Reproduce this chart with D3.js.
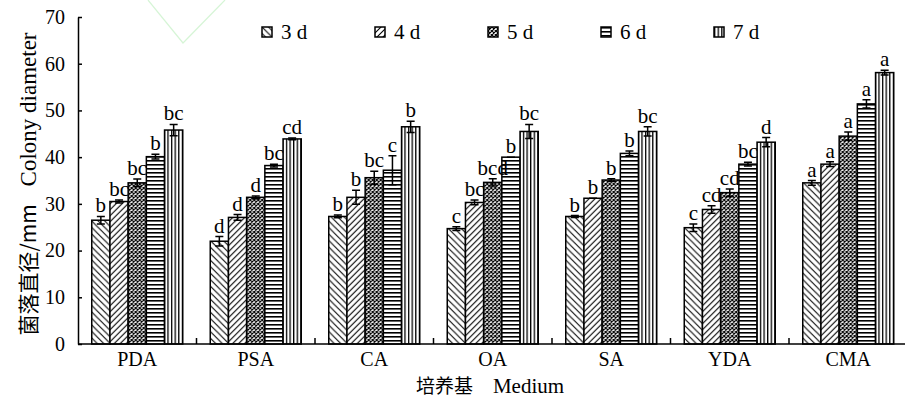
<!DOCTYPE html>
<html>
<head>
<meta charset="utf-8">
<script src="https://cdn.jsdelivr.net/npm/d3@7"></script>
<style>
  body { margin: 0; background: #fff; }
  text { font-family: "Liberation Serif", "DejaVu Serif", serif; fill: #000; }
  .cjk { font-family: "Noto Sans CJK SC", sans-serif; font-weight: 400; fill: #000; }
</style>
</head>
<body>
<div id="chart"></div>
<script>
// media and incubation days
var media = ['PDA', 'PSA', 'CA', 'OA', 'SA', 'YDA', 'CMA'];
var days = ['3 d', '4 d', '5 d', '6 d', '7 d'];

// colony diameter (mm), one row per medium, one column per day
var diameter = [
    [26.5, 30.5, 34.5, 40.1, 45.8],
    [22.0, 27.1, 31.4, 38.2, 43.9],
    [27.3, 31.4, 35.6, 37.2, 46.5],
    [24.7, 30.3, 34.6, 40.0, 45.5],
    [27.3, 31.2, 35.1, 40.8, 45.5],
    [24.9, 28.8, 32.4, 38.5, 43.2],
    [34.5, 38.5, 44.5, 51.4, 58.1]
];

// standard error
var errors = [
    [0.8, 0.3, 0.8, 0.5, 1.2],
    [1.0, 0.6, 0.3, 0.3, 0.2],
    [0.3, 1.5, 1.4, 3.1, 1.2],
    [0.4, 0.5, 0.8, 0.0, 1.5],
    [0.2, 0.0, 0.3, 0.5, 1.0],
    [0.8, 0.8, 0.8, 0.4, 1.0],
    [0.5, 0.5, 0.9, 0.9, 0.5]
];

// significance letters
var letters = [
    ['b', 'bc', 'bc', 'b', 'bc'],
    ['d', 'd', 'd', 'bc', 'cd'],
    ['b', 'b', 'bc', 'c', 'b'],
    ['c', 'bc', 'bcd', 'b', 'bc'],
    ['b', 'b', 'b', 'b', 'bc'],
    ['c', 'cd', 'cd', 'bc', 'd'],
    ['a', 'a', 'a', 'a', 'a']
];

var yTicks = [0, 10, 20, 30, 40, 50, 60, 70];

var width = 905;
var height = 402;
var plotLeft = 78, plotRight = 907.5, plotTop = 17, plotBottom = 344;

var svg = d3.select('#chart').append('svg')
    .attr('width', width)
    .attr('height', height);

// fill patterns for the five days
var defs = svg.append('defs');

var p3 = defs.append('pattern').attr('id', 'p0').attr('patternUnits', 'userSpaceOnUse')
    .attr('width', 6.5).attr('height', 6.5);
p3.append('rect').attr('width', 6.5).attr('height', 6.5).attr('fill', '#fff');
p3.append('path').attr('d', 'M-1,-1L7.5,7.5M-4,2.5L2.5,9M4,-2.5L9,2.5').attr('stroke', '#000').attr('stroke-width', 1.1);

var p4 = defs.append('pattern').attr('id', 'p1').attr('patternUnits', 'userSpaceOnUse')
    .attr('width', 6).attr('height', 6);
p4.append('rect').attr('width', 6).attr('height', 6).attr('fill', '#fff');
p4.append('path').attr('d', 'M-1,7L7,-1M-4,4L2,-2M4,8L8,4').attr('stroke', '#000').attr('stroke-width', 1.1);

var p5 = defs.append('pattern').attr('id', 'p2').attr('patternUnits', 'userSpaceOnUse')
    .attr('width', 4).attr('height', 4);
p5.append('rect').attr('width', 4).attr('height', 4).attr('fill', '#fff');
p5.append('path').attr('d', 'M0,0L4,4M4,0L0,4M-2,2L0,4M2,-2L4,0')
    .attr('stroke', '#000').attr('stroke-width', 1.2);

var p6 = defs.append('pattern').attr('id', 'p3').attr('patternUnits', 'userSpaceOnUse')
    .attr('width', 4).attr('height', 4);
p6.append('rect').attr('width', 4).attr('height', 4).attr('fill', '#fff');
p6.append('rect').attr('y', 0).attr('width', 4).attr('height', 1.6).attr('fill', '#000');

var p7 = defs.append('pattern').attr('id', 'p4').attr('patternUnits', 'userSpaceOnUse')
    .attr('width', 3.6).attr('height', 4);
p7.append('rect').attr('width', 3.6).attr('height', 4).attr('fill', '#fff');
p7.append('rect').attr('x', 0).attr('width', 1.3).attr('height', 4).attr('fill', '#000');

// faint green mark at the top of the scan
svg.append('path')
    .attr('d', 'M148,0L183,43L225,0')
    .attr('fill', 'none')
    .attr('stroke', '#d6f5d6')
    .attr('stroke-width', 1.2);

var x = d3.scaleBand().domain(media).range([plotLeft, plotRight]);
var xInner = d3.scaleBand().domain(days).range([0, 91]);
var y = d3.scaleLinear().domain([0, 70]).range([plotBottom, plotTop]);

var groups = svg.selectAll('g.group')
    .data(media)
    .enter().append('g')
    .attr('class', 'group')
    .attr('transform', function(d) {
        return 'translate(' + (x(d) + x.bandwidth() / 2 - 45.5) + ',0)';
    });

groups.each(function(m, i) {
    var g = d3.select(this);
    var rows = days.map(function(day, j) {
        return { day: day, j: j, v: diameter[i][j], e: errors[i][j], l: letters[i][j] };
    });

    g.selectAll('rect')
        .data(rows)
        .enter().append('rect')
        .attr('x', function(d) { return xInner(d.day); })
        .attr('y', function(d) { return y(d.v); })
        .attr('width', xInner.bandwidth())
        .attr('height', function(d) { return y(0) - y(d.v); })
        .attr('fill', function(d) { return 'url(#p' + d.j + ')'; })
        .attr('stroke', '#000')
        .attr('stroke-width', 1.5);

    var eb = g.selectAll('g.err')
        .data(rows)
        .enter().append('g')
        .attr('class', 'err')
        .attr('transform', function(d) { return 'translate(' + (xInner(d.day) + xInner.bandwidth() / 2) + ',0)'; });

    eb.append('path')
        .attr('d', function(d) {
            var t = y(d.v + d.e), b = y(d.v - d.e);
            return 'M0,' + t + 'V' + b + 'M-4,' + t + 'H4M-4,' + b + 'H4';
        })
        .attr('stroke', '#000')
        .attr('stroke-width', 1.5)
        .attr('fill', 'none');

    eb.append('text')
        .attr('y', function(d) { return y(d.v + d.e) - 4; })
        .attr('text-anchor', 'middle')
        .style('font-size', '21px')
        .text(function(d) { return d.l; });
});

// y axis
var yAxis = svg.append('g')
    .attr('transform', 'translate(' + plotLeft + ',0)')
    .call(d3.axisLeft(y).tickValues(yTicks).tickSizeInner(-4).tickSizeOuter(0).tickPadding(13));
yAxis.select('.domain').attr('stroke-width', 1.5);
yAxis.selectAll('.tick line').attr('stroke-width', 1.5);
yAxis.selectAll('text').style('font-size', '20px').attr('fill', '#000');

// x axis
var xAxis = svg.append('g')
    .attr('transform', 'translate(0,' + plotBottom + ')')
    .call(d3.axisBottom(x).tickSize(0).tickPadding(8));
xAxis.select('.domain').attr('d', 'M' + plotLeft + ',0H' + plotRight).attr('stroke-width', 1.5);
xAxis.selectAll('text').style('font-size', '20px').attr('fill', '#000');

// group separators on the x axis
svg.selectAll('line.sep')
    .data(media.slice(1))
    .enter().append('line')
    .attr('class', 'sep')
    .attr('x1', function(d) { return x(d); })
    .attr('x2', function(d) { return x(d); })
    .attr('y1', plotBottom)
    .attr('y2', plotBottom - 6)
    .attr('stroke', '#000')
    .attr('stroke-width', 1.5);

// legend
var legend = svg.selectAll('g.legend')
    .data(days)
    .enter().append('g')
    .attr('class', 'legend')
    .attr('transform', function(d, i) { return 'translate(' + (262 + i * 113) + ',27)'; });

legend.append('rect')
    .attr('width', 10)
    .attr('height', 10)
    .attr('fill', function(d, i) { return 'url(#p' + i + ')'; })
    .attr('stroke', '#000')
    .attr('stroke-width', 1.5);

legend.append('text')
    .attr('x', 19)
    .attr('y', 12)
    .style('font-size', '21px')
    .text(function(d) { return d; });

// axis titles
var yTitle = svg.append('text')
    .attr('transform', 'translate(36,184) rotate(-90)')
    .attr('text-anchor', 'middle')
    .style('font-size', '23px');
yTitle.append('tspan').attr('class', 'cjk').style('font-size', '21px').text('菌落直径/mm');
yTitle.append('tspan').attr('dx', 18).text('Colony diameter');

var xTitle = svg.append('text')
    .attr('x', 490)
    .attr('y', 393)
    .attr('text-anchor', 'middle')
    .style('font-size', '21px');
xTitle.append('tspan').attr('class', 'cjk').style('font-size', '19px').text('培养基');
xTitle.append('tspan').attr('dx', 20).text('Medium');
</script>
</body>
</html>
